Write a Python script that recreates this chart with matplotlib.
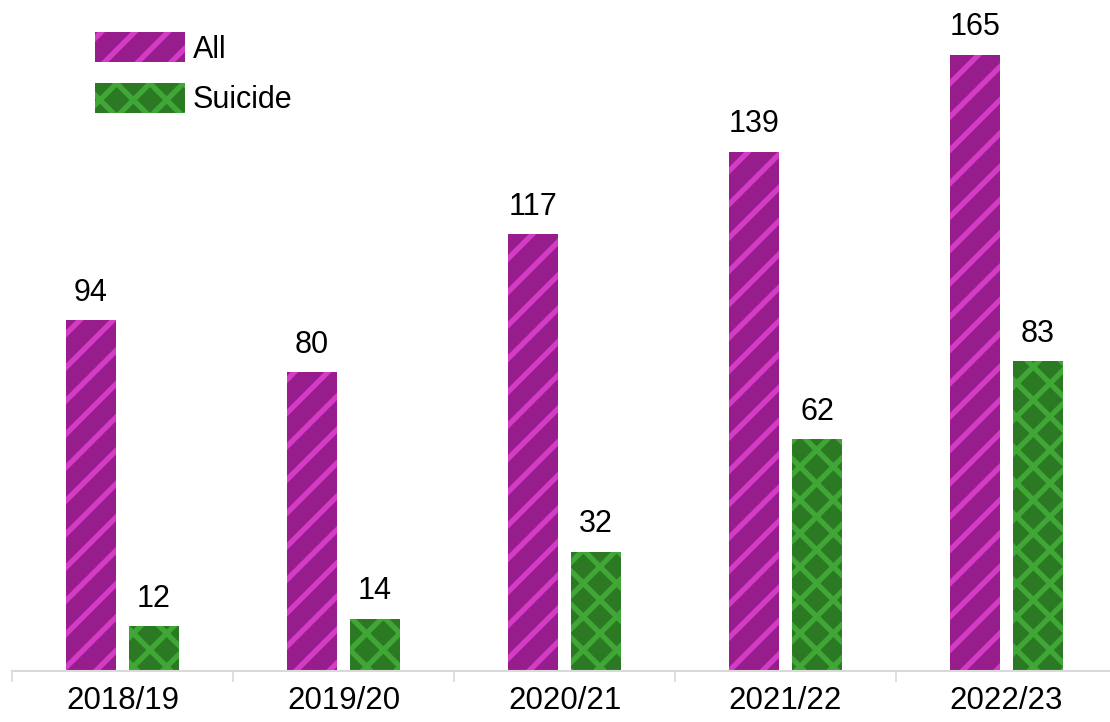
import numpy as np
import matplotlib
matplotlib.use("Agg")
import matplotlib.pyplot as plt

years = ["2018/19", "2019/20", "2020/21", "2021/22", "2022/23"]
all_deaths = [94, 80, 117, 139, 165]
suicide = [12, 14, 32, 62, 83]

plt.rcParams['font.family'] = ['Liberation Sans', 'DejaVu Sans']
plt.rcParams['hatch.linewidth'] = 3.8

fig = plt.figure(figsize=(11.1, 7.22), dpi=100)
ax = fig.add_axes([12 / 1110, 51 / 722, 1105 / 1110, 671 / 722])

x = np.arange(len(years))
w = 0.226
off = 0.1425

b1 = ax.bar(x - off, all_deaths, w, color='#971d8c', edgecolor='#d43cc6',
            hatch='/', linewidth=0, label='All')
b2 = ax.bar(x + off, suicide, w, color='#2b7a23', edgecolor='#40a636',
            hatch='x', linewidth=0, label='Suicide')

ax.bar_label(b1, padding=9, fontsize=22)
ax.bar_label(b2, padding=9, fontsize=22)

ax.set_xlim(-0.5, 4.5)
ax.set_ylim(0, 179.7)
ax.set_yticks([])
ax.set_xticks(x)
ax.set_xticklabels(years, fontsize=22.5)
ax.set_xticks(np.arange(-0.5, 4.6, 1), minor=True)
ax.tick_params(axis='x', which='major', length=0, pad=11)
ax.tick_params(axis='x', which='minor', length=8, color='#d9d9d9', width=1.2)
for s in ['top', 'right', 'left']:
    ax.spines[s].set_visible(False)
ax.spines['bottom'].set_color('#d9d9d9')
ax.spines['bottom'].set_linewidth(1.5)

leg = ax.legend(loc='upper left', bbox_to_anchor=(83 / 1105, 1 - 32 / 671),
                frameon=False, fontsize=22, handlelength=2.94, handleheight=1.15,
                handletextpad=0.25, labelspacing=0.6, borderpad=0, borderaxespad=0)

fig.savefig("out.png", dpi=100)
